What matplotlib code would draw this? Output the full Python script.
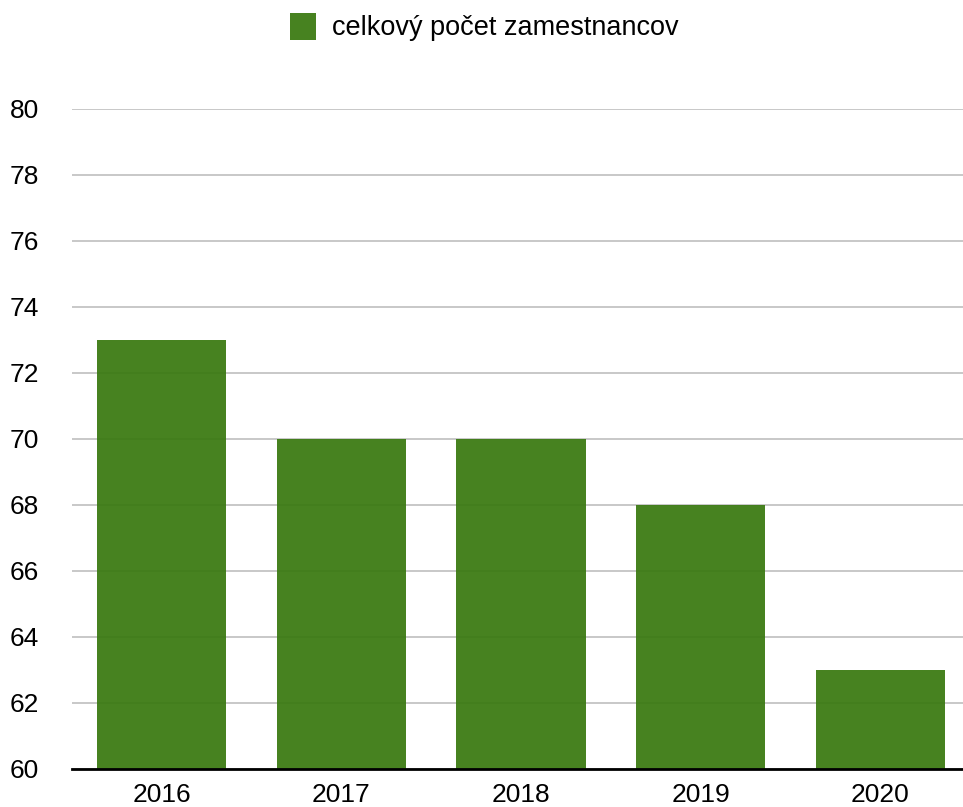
import matplotlib
matplotlib.use("Agg")
import matplotlib.pyplot as plt

plt.rcParams['font.family'] = ['Liberation Sans', 'DejaVu Sans']

years = ["2016", "2017", "2018", "2019", "2020"]
employees = [73, 70, 70, 68, 63]
series_name = "celkový počet zamestnancov"
y_ticks = [60, 62, 64, 66, 68, 70, 72, 74, 76, 78, 80]

W, H = 963, 807
fig = plt.figure(figsize=(W / 100, H / 100), dpi=100)
ax = fig.add_axes([72 / W, 38 / H, (963 - 72) / W, (769 - 109) / H])

x = list(range(len(years)))
ax.bar(x, [v - 60 for v in employees], bottom=60, width=0.72,
       color='#3b7a12', alpha=0.94, zorder=3, label=series_name,
       edgecolor='none')

ax.set_ylim(60, 80)
ax.set_xlim(-0.5, 4.46)
ax.set_yticks(y_ticks)
ax.set_yticklabels([str(t) for t in y_ticks], fontsize=19)
ax.set_xticks(x)
ax.set_xticklabels(years, fontsize=19)
ax.yaxis.grid(True, color='#c4c4c4', linewidth=1.3, zorder=1)
ax.set_axisbelow(True)
for s in ['top', 'right', 'left']:
    ax.spines[s].set_visible(False)
ax.spines['bottom'].set_linewidth(2.0)
ax.spines['bottom'].set_color('black')
ax.spines['bottom'].set_zorder(5)
ax.tick_params(axis='both', length=0)
ax.tick_params(axis='x', pad=10)
ax.yaxis.set_tick_params(pad=0)
for lbl in ax.get_yticklabels():
    lbl.set_horizontalalignment('left')
    lbl.set_transform(matplotlib.transforms.blended_transform_factory(fig.transFigure, ax.transData))
    lbl.set_x(10 / W)

fig.legend(handles=ax.patches[:1], labels=[series_name], loc='center',
           bbox_to_anchor=(484 / W, 1 - 27 / H), frameon=False, fontsize=19.5,
           handlelength=0.96, handleheight=1.15, handletextpad=0.6)

fig.savefig("out.png", dpi=100)
